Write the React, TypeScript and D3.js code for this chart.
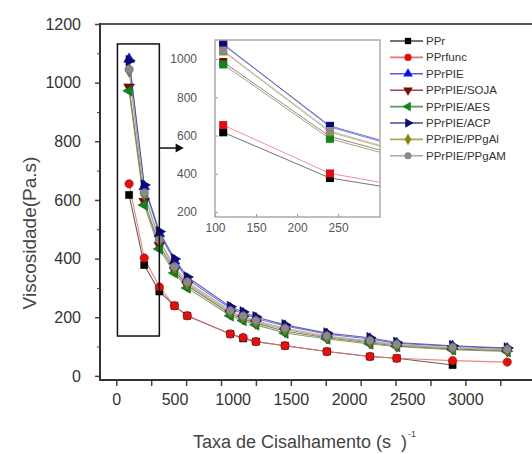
import React, { useEffect, useRef } from 'react';
import * as d3 from 'd3';

// shear rate (s^-1) of each measured point
const shearRate = [110, 240, 370, 500, 610, 980, 1090, 1200, 1450, 1810, 2180, 2410, 2890, 3360];

// viscosity (Pa.s) per sample
const ppr = [617, 378, 288, 239, 205, 143, 128, 117, 103, 83, 66, 60, 37];
const pprFunc = [655, 402, 303, 239, 205, 143, 131, 117, 103, 83, 66, 60, 52, 47];
const pprPie = [1080, 645, 485, 392, 330, 230, 212, 196, 170, 142, 126, 111, 101, 93];
const pprPieSoja = [985, 595, 445, 360, 308, 212, 195, 180, 152, 130, 113, 102, 92, 86];
const pprPieAes = [972, 583, 433, 351, 300, 205, 189, 174, 146, 126, 109, 100, 89, 83];
const pprPieAcp = [1075, 651, 492, 399, 337, 236, 218, 201, 174, 146, 130, 114, 103, 95];
const pprPiePpgAl = [1040, 618, 460, 368, 314, 218, 200, 185, 158, 133, 117, 105, 95, 88];
const pprPiePpgAm = [1045, 624, 464, 372, 320, 222, 204, 188, 162, 136, 120, 107, 97, 90];

const seriesNames = ['PPr', 'PPrfunc', 'PPrPIE', 'PPrPIE/SOJA', 'PPrPIE/AES', 'PPrPIE/ACP', 'PPrPIE/PPgAl', 'PPrPIE/PPgAM'];
const seriesValues = [ppr, pprFunc, pprPie, pprPieSoja, pprPieAes, pprPieAcp, pprPiePpgAl, pprPiePpgAm];
const markerColors = ['#000000', '#e01010', '#1010e8', '#7a0a0a', '#10861a', '#0a0a7a', '#8a8a10', '#8a8a8a'];
const lineColors = ['#444444', '#e87070', '#5a5ae8', '#9a4a4a', '#5a9a5a', '#4a4a9a', '#a8a850', '#a8a8a8'];

const yTickLabels = [0, 200, 400, 600, 800, 1000, 1200];
const yMinorTicks = [100, 300, 500, 700, 900, 1100];
const xTickLabels = [0, 500, 1000, 1500, 2000, 2500, 3000];
const xTickMarks = [0, 300, 600, 900, 1200, 1500, 1800, 2100, 2400, 2700, 3000, 3300];
const insetXTicks = [100, 150, 200, 250];
const insetYTicks = [200, 400, 600, 800, 1000];

const FONT = 'Liberation Sans, Arial, sans-serif';

const App = () => {
  const svgRef = useRef<SVGSVGElement>(null);

  useEffect(() => {
    const width = 532;
    const height = 454;
    const svg = d3.select(svgRef.current).attr('width', width).attr('height', height);
    svg.selectAll('*').remove();

    const x = d3.scaleLinear().domain([-140, 3650]).range([100, 541]);
    const y = d3.scaleLinear().domain([-14, 1200]).range([380, 24]);
    const fmt = d3.format('d');

    const symbols = [d3.symbolSquare, d3.symbolCircle, d3.symbolTriangle, d3.symbolTriangle, d3.symbolTriangle, d3.symbolTriangle, d3.symbolDiamond, d3.symbolCircle];
    const rotations = [0, 0, 0, 180, -90, 90, 0, 0];
    const sizes = [50, 55, 50, 50, 50, 50, 45, 55];

    const series = seriesValues.map((vals, i) => ({
      name: seriesNames[i],
      points: vals.map((v, j) => ({ x: shearRate[j], y: v })),
      i,
    }));

    // axes frame
    svg.append('line').attr('x1', 100).attr('x2', 541).attr('y1', 24).attr('y2', 24)
      .attr('stroke', '#555').attr('stroke-width', 2);

    const yAxis = svg.append('g').attr('transform', 'translate(100,0)')
      .call(d3.axisLeft(y).tickValues(yTickLabels).tickFormat(fmt).tickSize(5).tickPadding(14).tickSizeOuter(0));
    yAxis.select('.domain').remove();
    yAxis.selectAll('text').style('font-family', FONT).style('font-size', '16px').attr('fill', '#333');
    yAxis.selectAll('line').attr('stroke', '#444').attr('stroke-width', 1.5);
    svg.append('g').attr('transform', 'translate(100,0)')
      .call(d3.axisLeft(y).tickValues(yMinorTicks).tickSize(3).tickFormat(() => ''))
      .call(g => g.select('.domain').remove())
      .selectAll('line').attr('stroke', '#444');

    const xAxis = svg.append('g').attr('transform', 'translate(0,380)')
      .call(d3.axisBottom(x).tickValues(xTickLabels).tickFormat(fmt).tickSize(0).tickPadding(14));
    xAxis.select('.domain').remove();
    xAxis.selectAll('text').style('font-family', FONT).style('font-size', '16px').attr('fill', '#333');
    svg.append('g').attr('transform', 'translate(0,380)')
      .call(d3.axisBottom(x).tickValues(xTickMarks).tickSize(6).tickFormat(() => ''))
      .call(g => g.select('.domain').remove())
      .selectAll('line').attr('stroke', '#444').attr('stroke-width', 1.5);

    svg.append('line').attr('x1', 100).attr('x2', 100).attr('y1', 23).attr('y2', 381)
      .attr('stroke', '#333').attr('stroke-width', 2);
    svg.append('line').attr('x1', 99).attr('x2', 541).attr('y1', 380).attr('y2', 380)
      .attr('stroke', '#333').attr('stroke-width', 2);

    // series
    const line = d3.line<{ x: number; y: number }>().x(d => x(d.x)).y(d => y(d.y));
    const plot = svg.append('g');
    series.forEach(s => {
      plot.append('path').attr('d', line(s.points)).attr('fill', 'none')
        .attr('stroke', lineColors[s.i]).attr('stroke-width', 1.1).attr('opacity', 0.85);
    });
    series.forEach(s => {
      plot.selectAll(null).data(s.points).join('path')
        .attr('d', d3.symbol().type(symbols[s.i]).size(sizes[s.i])())
        .attr('transform', d => `translate(${x(d.x)},${y(d.y)}) rotate(${rotations[s.i]})`)
        .attr('fill', markerColors[s.i])
        .attr('stroke', d3.color(markerColors[s.i])!.darker(1).toString())
        .attr('stroke-width', 0.6);
    });

    // zoom box and arrow
    svg.append('rect').attr('x', x(10)).attr('y', y(1132))
      .attr('width', x(370) - x(10)).attr('height', y(136) - y(1132))
      .attr('fill', 'none').attr('stroke', '#111').attr('stroke-width', 1.5);
    const ay = y(777);
    svg.append('line').attr('x1', x(370)).attr('x2', x(520)).attr('y1', ay).attr('y2', ay)
      .attr('stroke', '#111').attr('stroke-width', 1.5);
    svg.append('path').attr('d', `M${x(510)},${ay - 4.5}L${x(580)},${ay}L${x(510)},${ay + 4.5}Z`).attr('fill', '#111');

    // inset
    const xi = d3.scaleLinear().domain([100, 301]).range([215, 380]);
    const yi = d3.scaleLinear().domain([174, 1100]).range([217, 40]);
    const inset = svg.append('g');
    inset.append('rect').attr('x', 215).attr('y', 40).attr('width', 165).attr('height', 177).attr('fill', '#fff');
    svg.append('clipPath').attr('id', 'inset-clip')
      .append('rect').attr('x', 215).attr('y', 40).attr('width', 165).attr('height', 177);
    const insetPlot = inset.append('g').attr('clip-path', 'url(#inset-clip)');
    const lineI = d3.line<{ x: number; y: number }>().x(d => xi(d.x)).y(d => yi(d.y));
    series.forEach(s => {
      insetPlot.append('path').attr('d', lineI(s.points)).attr('fill', 'none')
        .attr('stroke', lineColors[s.i]).attr('stroke-width', 1).attr('opacity', 0.75);
    });
    series.forEach(s => {
      insetPlot.selectAll(null).data(s.points.filter(p => p.x <= 301)).join('rect')
        .attr('x', d => xi(d.x) - 4).attr('y', d => yi(d.y) - 4)
        .attr('width', 8).attr('height', 8)
        .attr('fill', markerColors[s.i]);
    });
    const iy = inset.append('g').attr('transform', 'translate(215,0)')
      .call(d3.axisLeft(yi).tickValues(insetYTicks).tickFormat(fmt).tickSize(-3).tickPadding(18));
    iy.select('.domain').remove();
    iy.selectAll('line').attr('stroke', '#999');
    iy.selectAll('text').style('font-family', FONT).style('font-size', '12px').attr('fill', '#555');
    const ix = inset.append('g').attr('transform', 'translate(0,217)')
      .call(d3.axisBottom(xi).tickValues(insetXTicks).tickFormat(fmt).tickSize(-3).tickPadding(6));
    ix.select('.domain').remove();
    ix.selectAll('line').attr('stroke', '#999');
    ix.selectAll('text').style('font-family', FONT).style('font-size', '12px').attr('fill', '#555');
    inset.append('rect').attr('x', 215).attr('y', 40).attr('width', 165).attr('height', 177)
      .attr('fill', 'none').attr('stroke', '#aaa').attr('stroke-width', 1.5);

    // legend
    const legend = svg.append('g');
    series.forEach(s => {
      const ly = 41 + s.i * 16.4;
      legend.append('line').attr('x1', 390).attr('x2', 423).attr('y1', ly).attr('y2', ly)
        .attr('stroke', lineColors[s.i]).attr('stroke-width', 1.6);
      legend.append('path')
        .attr('d', d3.symbol().type(symbols[s.i]).size(40)())
        .attr('transform', `translate(408,${ly}) rotate(${rotations[s.i]})`)
        .attr('fill', markerColors[s.i]);
      legend.append('text').attr('x', 426).attr('y', ly + 4)
        .style('font-family', FONT).style('font-size', '11.5px').attr('fill', '#333')
        .text(s.name);
    });

    // axis titles
    svg.append('text')
      .attr('transform', 'translate(36,233) rotate(-90)')
      .attr('text-anchor', 'middle')
      .style('font-family', FONT).style('font-size', '19px').attr('fill', '#444')
      .text('Viscosidade(Pa.s)');
    const xt = svg.append('text').attr('x', 193).attr('y', 448)
      .style('font-family', FONT).style('font-size', '18px').attr('fill', '#444');
    xt.append('tspan').text('Taxa de Cisalhamento (s');
    xt.append('tspan').attr('dx', 10).text(')');
    xt.append('tspan').attr('dy', -11).attr('dx', 1).style('font-size', '9px').text('-1');
  }, []);

  return <svg ref={svgRef} style={{ position: 'absolute', left: 0, top: 0 }}></svg>;
};

export default App;
